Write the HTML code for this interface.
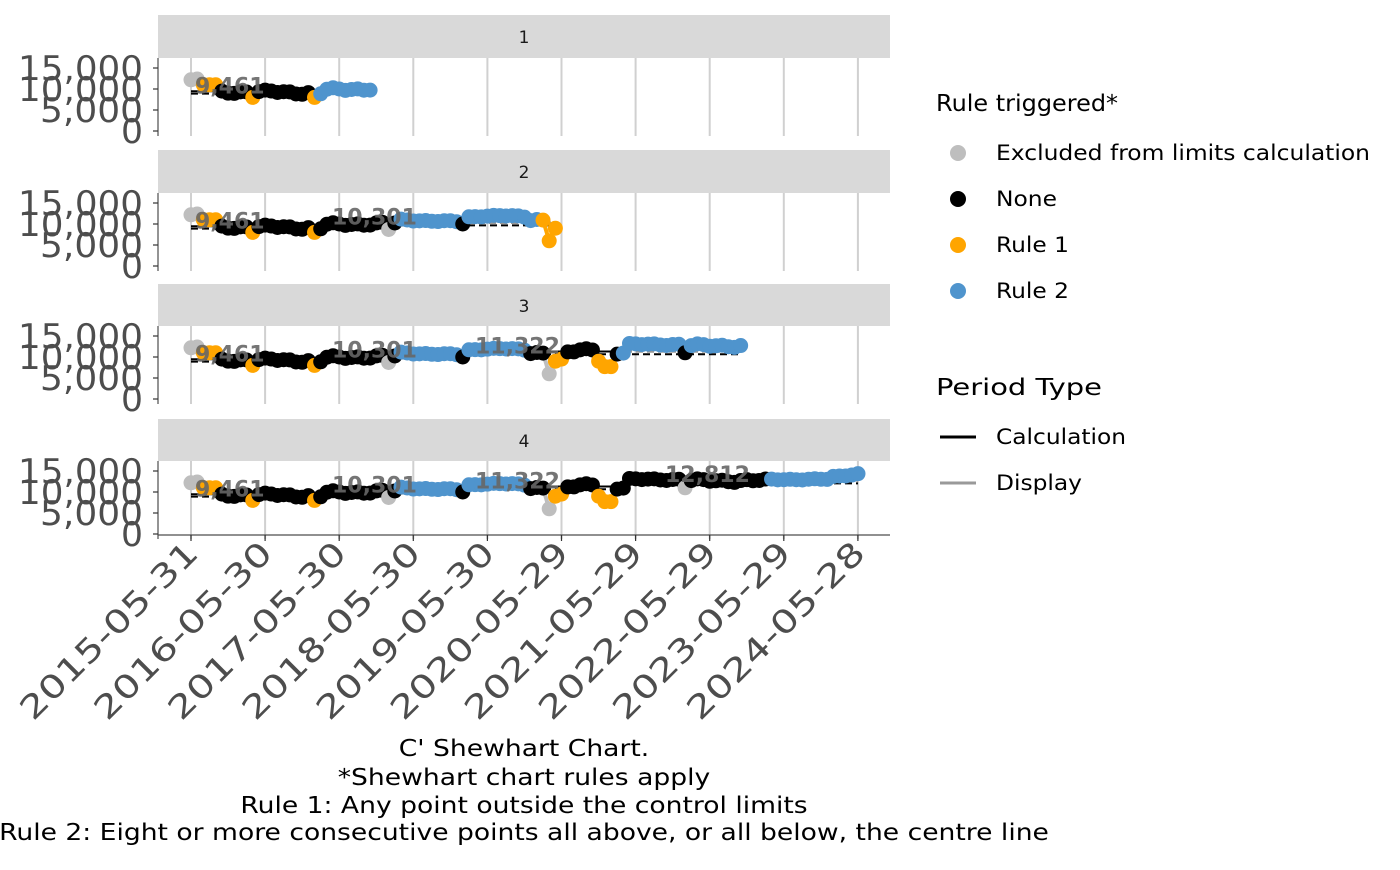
<!DOCTYPE html>
<html><head><meta charset="utf-8"><style>
body{margin:0;background:#fff;font-family:"DejaVu Sans","Liberation Sans",sans-serif}
svg text{font-family:"DejaVu Sans","Liberation Sans",sans-serif}
</style></head><body>
<svg id="s" width="1400" height="866" xmlns="http://www.w3.org/2000/svg">
<rect width="1400" height="866" fill="#fff"/>
</svg>
<script>
const S=document.getElementById('s');const NS='http://www.w3.org/2000/svg';
function el(t,a,txt){const e=document.createElementNS(NS,t);for(const k in a)e.setAttribute(k,a[k]);if(txt!==undefined)e.textContent=txt;S.appendChild(e);return e;}
const G='#bebebe',K='#000',O='#ffa500',B='#4f94cd';
const X0=191,DX=(858-191)/108;
function base(x,i){
 const n=Math.sin(i*1.7)*250+Math.sin(i*0.63)*200;
 if(x<202)return 12200+n*0.5;
 if(x<216)return 11000;
 if(x<266)return (Math.abs(x-253)<4?8000:9300+n);
 if(x<321)return (Math.abs(x-315)<4?8000:9400-(x-266)*8+n);
 if(x<397)return (Math.abs(x-389)<4?8700:9800+(x-321)*5+n);
 if(x<461)return 11000-(x-400)*8+n*0.5;
 if(x<466)return 10000;
 if(x<527)return 11600+400*Math.sin((x-467)/60*3.14)+n*0.4;
 if(x<544)return 11000+n;
 if(x<548)return 8500;
 if(x<553)return 6000;
 if(x<558)return 9000;
 if(x<563)return 9500;
 if(x<598)return 11000+(x-565)*30+n;
 if(x<604)return 9000;
 if(x<614)return 7700;
 if(x<628)return 11000+n;
 if(x<683)return 13000+n*0.6;
 if(x<688)return 11000;
 if(x<770)return 12700+n;
 if(x<830)return 13000+n*0.4;
 return 13500+(x-830)*30+n*0.4;
}
function col(p,x){
 if(x<202)return G; if(x<216)return O;
 if(Math.abs(x-253)<4||Math.abs(x-315)<4)return O;
 if(p==1){return x<320?K:B;}
 if(x<397)return Math.abs(x-389)<4?G:K;
 if(x<461)return B; if(x<466)return K;
 if(p==2){return x<541?B:O;}
 if(x<527)return B; if(x<544)return K; if(x<553)return G;
 if(x<563)return O; if(x<598)return K; if(x<614)return O;
 if(p==3){ if(x<621)return K; if(x<680)return B; if(x<688)return K; return B;}
 if(x<628)return K; if(x<683)return K; if(x<688)return G; if(x<770)return K; return B;
}
const ends={1:375,2:556,3:743,4:860};
const tops=[[15,58,140],[150,193,273],[284,326,408],[419,461,543]];
const xt=[];for(let k=0;k<10;k++)xt.push(191+k*74.1);
const ylw={0:22,5000:103,10000:125,15000:125};
tops.forEach((t,pi)=>{
 const p=pi+1,st=t[0],top=t[1];const z=top+73;
 el('rect',{x:158,y:st,width:732,height:top-st,fill:'#d9d9d9'});
 el('text',{x:524,y:st+28,'font-size':17,fill:'#1a1a1a','text-anchor':'middle'},String(p));
 xt.forEach(x=>el('line',{x1:x,x2:x,y1:top,y2:z+5,stroke:'#d0d0d0','stroke-width':2}));
 el('line',{x1:158,x2:158,y1:top,y2:z+5,stroke:'#4d4d4d','stroke-width':1.2});
 [0,5000,10000,15000].forEach(v=>{const y=z-v*21/5000;
  el('line',{x1:153,x2:158,y1:y,y2:y,stroke:'#333','stroke-width':1.2});
  el('text',{x:143,y:y+12,'font-size':34,fill:'#4d4d4d','text-anchor':'end',textLength:ylw[v],lengthAdjust:'spacingAndGlyphs'},v.toLocaleString('en-US'));});
 const Y=v=>z-v*21/5000;
 const segs=[[191,325,9461],[325,467,10301],[467,625,11322],[625,858,12812]].slice(0,p);
 const endx=ends[p]-2;
 segs.forEach((s,i)=>{const last=i==segs.length-1;const xe=last?endx:s[1];
  el('line',{x1:s[0],x2:s[1],y1:Y(s[2]),y2:Y(s[2]),stroke:'#000','stroke-width':2});
  el('line',{x1:s[0],x2:xe,y1:Y(s[2]*0.94),y2:Y(s[2]*0.94),stroke:'#000','stroke-width':2,'stroke-dasharray':'7,4'});
  if(last&&xe>s[1]){el('line',{x1:s[1],x2:xe,y1:Y(s[2]),y2:Y(s[2]),stroke:'#999','stroke-width':2.5,'stroke-dasharray':'7,4'});}
 });
 const pts=[];for(let i=0;i<=108;i++){const x=X0+i*DX;if(x>ends[p])break;pts.push([x,base(x,i),col(p,x)]);}
 for(let i=1;i<pts.length;i++)el('line',{x1:pts[i-1][0],y1:Y(pts[i-1][1]),x2:pts[i][0],y2:Y(pts[i][1]),stroke:pts[i][2],'stroke-width':4});
 pts.forEach(q=>el('circle',{cx:q[0],cy:Y(q[1]),r:7.5,fill:q[2]}));
 segs.forEach(s=>el('text',{x:s[0]+(s[2]==9461?4:s[1]==467?7:s[2]==11322?8:40),y:Y(s[2])+2,'font-size':22,'font-weight':'bold',fill:'#666','fill-opacity':0.9},s[2].toLocaleString('en-US')));
 if(p==4){el('line',{x1:158,x2:890,y1:535,y2:535,stroke:'#4d4d4d','stroke-width':1.2});
  const lab=['2015-05-31','2016-05-30','2017-05-30','2018-05-30','2019-05-30','2020-05-29','2021-05-29','2022-05-29','2023-05-29','2024-05-28'];
  xt.forEach((x,k)=>{el('line',{x1:x,x2:x,y1:535,y2:541,stroke:'#333','stroke-width':1.2});
   el('text',{x:x+9,y:555,'font-size':32,fill:'#4d4d4d','text-anchor':'end',textLength:236,lengthAdjust:'spacingAndGlyphs',transform:`rotate(-45 ${x+9} 555)`},lab[k]);});}
});
function T(x,y,s,t,w,anchor){const a={x:x,y:y,'font-size':s,fill:'#000'};if(w){a.textLength=w;a.lengthAdjust='spacingAndGlyphs';}if(anchor)a['text-anchor']=anchor;el('text',a,t);}
T(936,111,23,'Rule triggered*',182);
[[G,'Excluded from limits calculation',153,374],[K,'None',199,61],[O,'Rule 1',245,73],[B,'Rule 2',291,73]].forEach(r=>{
 el('circle',{cx:958,cy:r[2],r:8,fill:r[0]});T(996,r[2]+7,21,r[1],r[3]);});
T(936,395,23,'Period Type',166);
el('line',{x1:940,x2:976,y1:437,y2:437,stroke:'#000','stroke-width':3});
T(996,444,21,'Calculation',130);
el('line',{x1:940,x2:976,y1:483,y2:483,stroke:'#999','stroke-width':3});
T(996,490,21,'Display',86);
[['C\' Shewhart Chart.',756],['*Shewhart chart rules apply',785],['Rule 1: Any point outside the control limits',813],['Rule 2: Eight or more consecutive points all above, or all below, the centre line',840]].forEach(r=>
 el('text',{x:524,y:r[1],'font-size':23,fill:'#000','text-anchor':'middle',transform:'translate(524 0) scale(1.156 1) translate(-524 0)'},r[0]));
</script>
</body></html>
